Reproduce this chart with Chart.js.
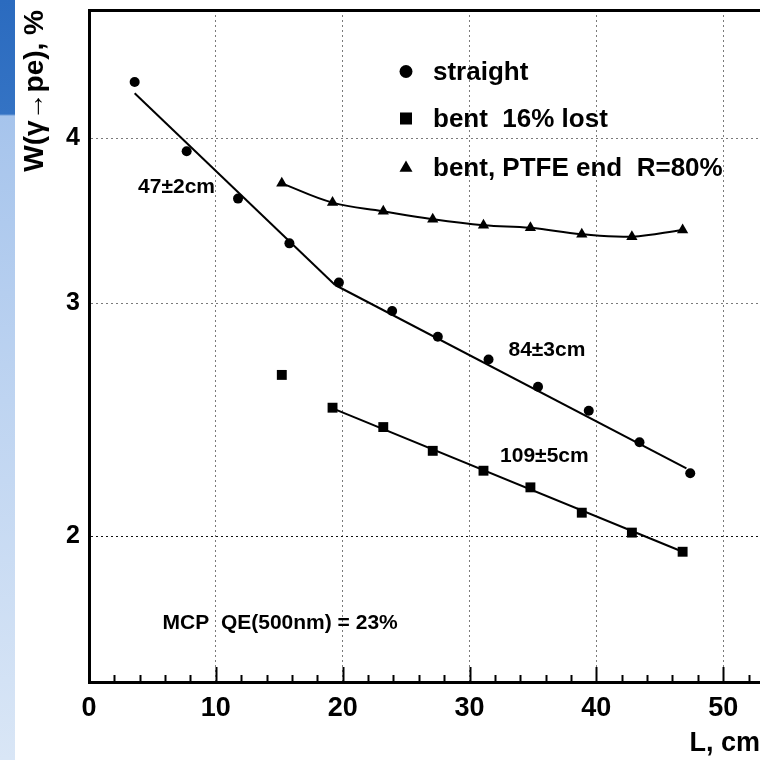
<!DOCTYPE html>
<html><head><meta charset="utf-8">
<script src="https://cdn.jsdelivr.net/npm/chart.js@4.4.1/dist/chart.umd.min.js"></script>
<style>
html,body{margin:0;padding:0;background:#fff;}
#wrap{position:relative;width:760px;height:760px;overflow:hidden;background:#fff;}
#strip{position:absolute;left:0;top:0;width:15px;height:760px;background:linear-gradient(to bottom,#2b6bbf 0px,#3473c4 114px,#a6c4ec 116px,#bed4f1 400px,#d9e6f6 760px);}
canvas{position:absolute;left:0;top:0;}
</style></head><body>
<div id="wrap"><div id="strip"></div><canvas id="c" width="760" height="760"></canvas></div>
<script>
// ---- data ----
const straightX = [3.6, 7.7, 11.75, 15.8, 19.7, 23.9, 27.5, 31.5, 35.4, 39.4, 43.4, 47.4];
const straightY = [4.41, 3.91, 3.60, 3.33, 3.11, 2.96, 2.83, 2.72, 2.594, 2.488, 2.355, 2.231];
const bentX = [15.2, 19.2, 23.2, 27.1, 31.1, 34.8, 38.85, 42.8, 46.8];
const bentY = [2.648, 2.501, 2.418, 2.320, 2.241, 2.177, 2.083, 2.012, 1.946];
const ptfeX = [15.2, 19.2, 23.2, 27.1, 31.1, 34.8, 38.85, 42.8, 46.8];
const ptfeY = [3.697, 3.575, 3.521, 3.473, 3.437, 3.422, 3.383, 3.369, 3.409];
const fitShortX = [3.6, 19.4];
const fitShortY = [4.325, 3.097];
const fitLongX = [19.4, 47.1];
const fitLongY = [3.097, 2.25];
const fitBentX = [19.4, 46.8];
const fitBentY = [2.494, 1.946];
const seriesLabels = ['straight', 'bent  16% lost', 'bent, PTFE end  R=80%'];
const annotationTexts = ['47\u00b12cm', '84\u00b13cm', '109\u00b15cm', 'MCP  QE(500nm) = 23%'];
const annotationX = [6.9, 36.1, 35.9, 5.8];
const annotationY = [3.674, 2.766, 2.299, 1.719];
const annotationAlign = ['center', 'center', 'center', 'left'];
const xTickStep = 10;
const xMinorStep = 2;
const xMin = 0, xMax = 52.9;
const yTicks = [2, 3, 4];
const yMin = 1.551, yMax = 5.0;

const FONT = "'Liberation Sans', Arial, Helvetica, sans-serif";
Chart.defaults.font.family = FONT;
Chart.defaults.font.weight = 'bold';
Chart.defaults.color = '#000';

const pts = (xs, ys) => xs.map((x, i) => ({x: x, y: ys[i]}));

function drawMarker(ctx, style, r, x, y) {
  if (Chart.helpers && Chart.helpers.drawPoint) {
    Chart.helpers.drawPoint(ctx, {pointStyle: style, radius: r, rotation: 0, borderWidth: 0}, x, y);
    return;
  }
  ctx.beginPath();
  if (style === 'circle') ctx.arc(x, y, r, 0, Math.PI * 2);
  else if (style === 'rect') { const s = r * Math.SQRT1_2; ctx.rect(x - s, y - s, 2 * s, 2 * s); }
  else { ctx.moveTo(x, y - r); ctx.lineTo(x + r * 0.866, y + r / 2); ctx.lineTo(x - r * 0.866, y + r / 2); ctx.closePath(); }
  ctx.fill();
}

const innerTicks = {
  id: 'innerTicks',
  afterDraw(chart) {
    const xs = chart.scales.x, ctx = chart.ctx, bottom = chart.chartArea.bottom;
    ctx.save();
    ctx.strokeStyle = '#000';
    ctx.lineWidth = 2;
    const n = Math.floor((xs.max - xs.min) / xMinorStep + 1e-9);
    for (let i = 1; i <= n; i++) {
      const v = xs.min + i * xMinorStep;
      const px = Math.round(xs.getPixelForValue(v)) + 0.5;
      const len = (Math.abs(v % xTickStep) < 1e-9) ? 15 : 7;
      ctx.beginPath();
      ctx.moveTo(px, bottom - 1);
      ctx.lineTo(px, bottom - len);
      ctx.stroke();
    }
    ctx.restore();
  }
};

const textLayer = {
  id: 'textLayer',
  afterDatasetsDraw(chart) {
    const ctx = chart.ctx, xs = chart.scales.x, ys = chart.scales.y, ca = chart.chartArea;
    ctx.save();
    ctx.fillStyle = '#000';
    ctx.textBaseline = 'middle';
    ctx.font = 'bold 21px ' + FONT;
    annotationTexts.forEach((t, i) => {
      ctx.textAlign = annotationAlign[i];
      ctx.fillText(t, xs.getPixelForValue(annotationX[i]), ys.getPixelForValue(annotationY[i]));
    });
    // in-plot legend
    const styles = ['circle', 'rect', 'triangle'];
    const radii = [6.5, 8.5, 7.5];
    const mx = ca.left + 317, tx = ca.left + 344;
    const rowY = [ca.top + 61.5, ca.top + 108.5, ca.top + 158];
    ctx.font = 'bold 26px ' + FONT;
    ctx.textAlign = 'left';
    seriesLabels.forEach((t, i) => {
      drawMarker(ctx, styles[i], radii[i], mx, rowY[i]);
      ctx.fillStyle = '#000';
      ctx.fillText(t, tx, rowY[i] + 1);
    });
    ctx.restore();
  }
};

const lineDs = (xs, ys) => ({
  type: 'line', data: pts(xs, ys), borderColor: '#000', borderWidth: 2,
  pointRadius: 0, fill: false, tension: 0, showLine: true
});

new Chart(document.getElementById('c'), {
  type: 'scatter',
  data: {
    datasets: [
      lineDs(fitShortX, fitShortY),
      lineDs(fitLongX, fitLongY),
      lineDs(fitBentX, fitBentY),
      {label: seriesLabels[0], data: pts(straightX, straightY), pointStyle: 'circle', pointRadius: 5,
       backgroundColor: '#000', borderColor: '#000', borderWidth: 0, showLine: false},
      {label: seriesLabels[1], data: pts(bentX, bentY), pointStyle: 'rect', pointRadius: 7,
       backgroundColor: '#000', borderColor: '#000', borderWidth: 0, showLine: false},
      {label: seriesLabels[2], data: pts(ptfeX, ptfeY), pointStyle: 'triangle', pointRadius: 6.5,
       backgroundColor: '#000', borderColor: '#000', borderWidth: 2, showLine: true, tension: 0.4,
       pointBorderWidth: 0}
    ]
  },
  options: {
    responsive: false,
    animation: false,
    layout: {autoPadding: false, padding: {top: 10, left: 0, right: 0, bottom: 0}},
    plugins: {legend: {display: false}, tooltip: {enabled: false}},
    scales: {
      x: {
        type: 'linear', position: 'bottom', min: xMin, max: xMax,
        afterFit: s => { s.height = 78; s.paddingLeft = 0; s.paddingRight = 0; },
        ticks: {stepSize: xTickStep, includeBounds: false, padding: 10, maxRotation: 0, autoSkip: false,
                font: {size: 27, weight: 'bold'}, color: '#000'},
        grid: {drawTicks: false, lineWidth: 1,
               color: c => (c.tick && c.tick.value === 0) ? 'rgba(0,0,0,0)' : '#7a7a7a'},
        border: {display: true, color: '#000', width: 3, dash: [2, 3]},
        title: {display: true, text: 'L, cm', align: 'end', color: '#000',
                font: {size: 27, weight: 'bold'}, padding: {top: 3, bottom: 0}}
      },
      x2: {
        type: 'linear', position: 'top', min: xMin, max: xMax,
        afterFit: s => { s.height = 0; },
        ticks: {display: false, includeBounds: false},
        grid: {display: false, drawTicks: false},
        border: {display: true, color: '#000', width: 3}
      },
      y: {
        type: 'logarithmic', position: 'left', min: yMin, max: yMax,
        afterBuildTicks: s => { s.ticks = yTicks.map(v => ({value: v})); },
        afterFit: s => { s.width = 89; s.paddingTop = 0; s.paddingBottom = 0; },
        ticks: {padding: 9, font: {size: 25, weight: 'bold'}, color: '#000', callback: v => String(v)},
        grid: {drawTicks: false, lineWidth: 1,
               color: c => (c.tick && c.tick.value === 2) ? '#111' : '#7a7a7a'},
        border: {display: true, color: '#000', width: 3, dash: [2, 3]},
        title: {display: true, text: 'W(\u03b3\u2192pe), %', align: 'end', color: '#000',
                font: {size: 28, weight: 'bold'}, padding: {top: 18, bottom: 0}}
      }
    }
  },
  plugins: [innerTicks, textLayer]
});
</script>
</body></html>
